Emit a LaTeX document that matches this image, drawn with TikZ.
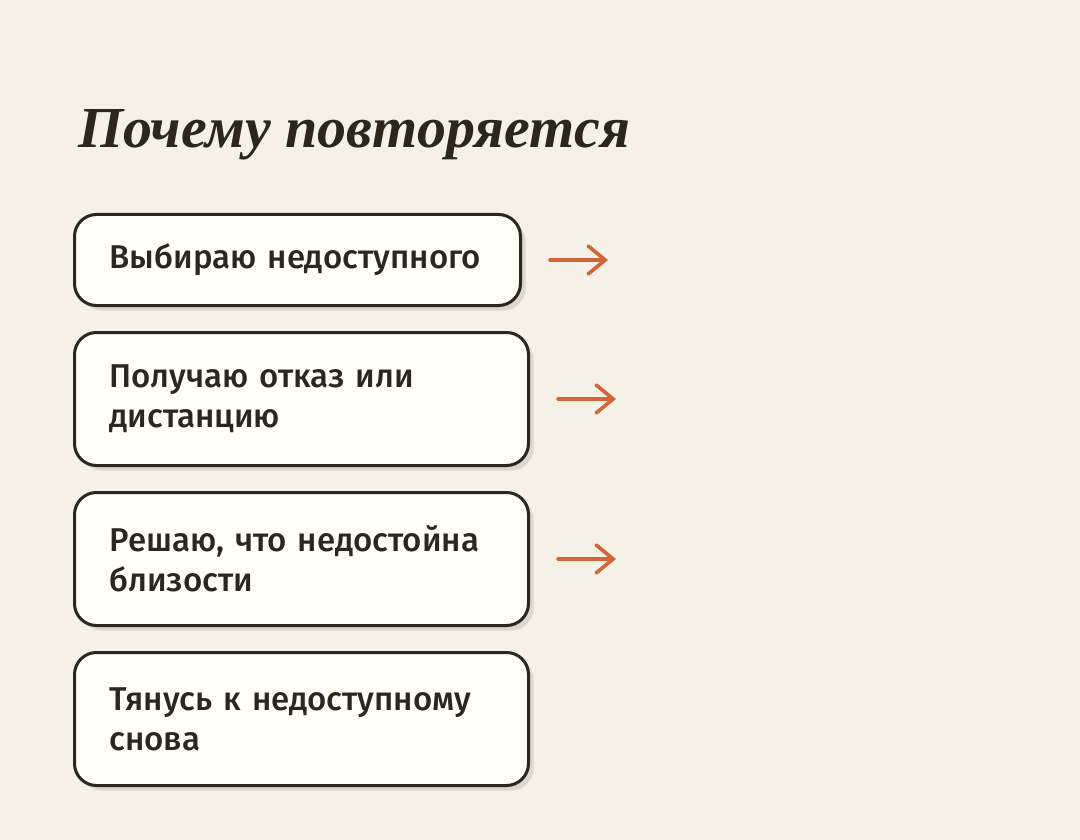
\documentclass[tikz,border=0pt]{standalone}
\usepackage{fontspec}
\setmainfont{Fira Sans Medium}
\newfontfamily\titlefont{Liberation Serif}
\usetikzlibrary{arrows.meta,positioning,shadows}

\definecolor{paper}{HTML}{F6F1E7}
\definecolor{cardfill}{HTML}{FFFDF7}
\definecolor{ink}{HTML}{2A2620}
\definecolor{shade}{HTML}{DDD7CB}
\definecolor{rust}{HTML}{D0653A}

\newcommand{\cardfont}{\fontsize{33}{40}\selectfont\spaceskip=0.2em plus 0.05em\relax}

\begin{document}
\begin{tikzpicture}[x=1pt, y=-1pt,
    card/.style={draw=ink, line width=3pt, fill=cardfill, rounded corners=22pt,
        anchor=north west, align=left, inner xsep=35pt, inner ysep=0pt,
        minimum height=133pt, text width=384pt, text=ink, font=\cardfont,
        drop shadow={shadow xshift=5pt, shadow yshift=-5pt, fill=shade, opacity=1}},
    flow/.style={draw=rust, line width=3.6pt, line cap=round,
        -{Straight Barb[length=17pt, width=28pt, line cap=round]}}]

    % Page
    \useasboundingbox (0,0) rectangle (1080,840);
    \fill[paper] (0,0) rectangle (1080,840);

    % Title
    \node[anchor=base west, inner sep=0pt, text=ink,
        font=\titlefont\bfseries\itshape\fontsize{58}{64}\selectfont] (title) at (78,148) {Почему повторяется};

    % Cards
    \node[card, minimum height=91pt, text width=376pt] (b1) at (73,213) {Выбираю недоступного};
    \node[card, below=24pt of b1.south west, anchor=north west] (b2) {Получаю отказ или\\дистанцию};
    \node[card, below=24pt of b2.south west, anchor=north west] (b3) {Решаю, что недостойна\\близости};
    \node[card, below=24pt of b3.south west, anchor=north west] (b4) {Тянусь к недоступному\\снова};

    % Arrows
    \foreach \b in {b1,b2,b3} {
        \coordinate (\b end) at ([xshift=86pt]\b.east);
        \draw[flow] ([xshift=28pt]\b.east) -- (\b end);
    }
\end{tikzpicture}
\end{document}
